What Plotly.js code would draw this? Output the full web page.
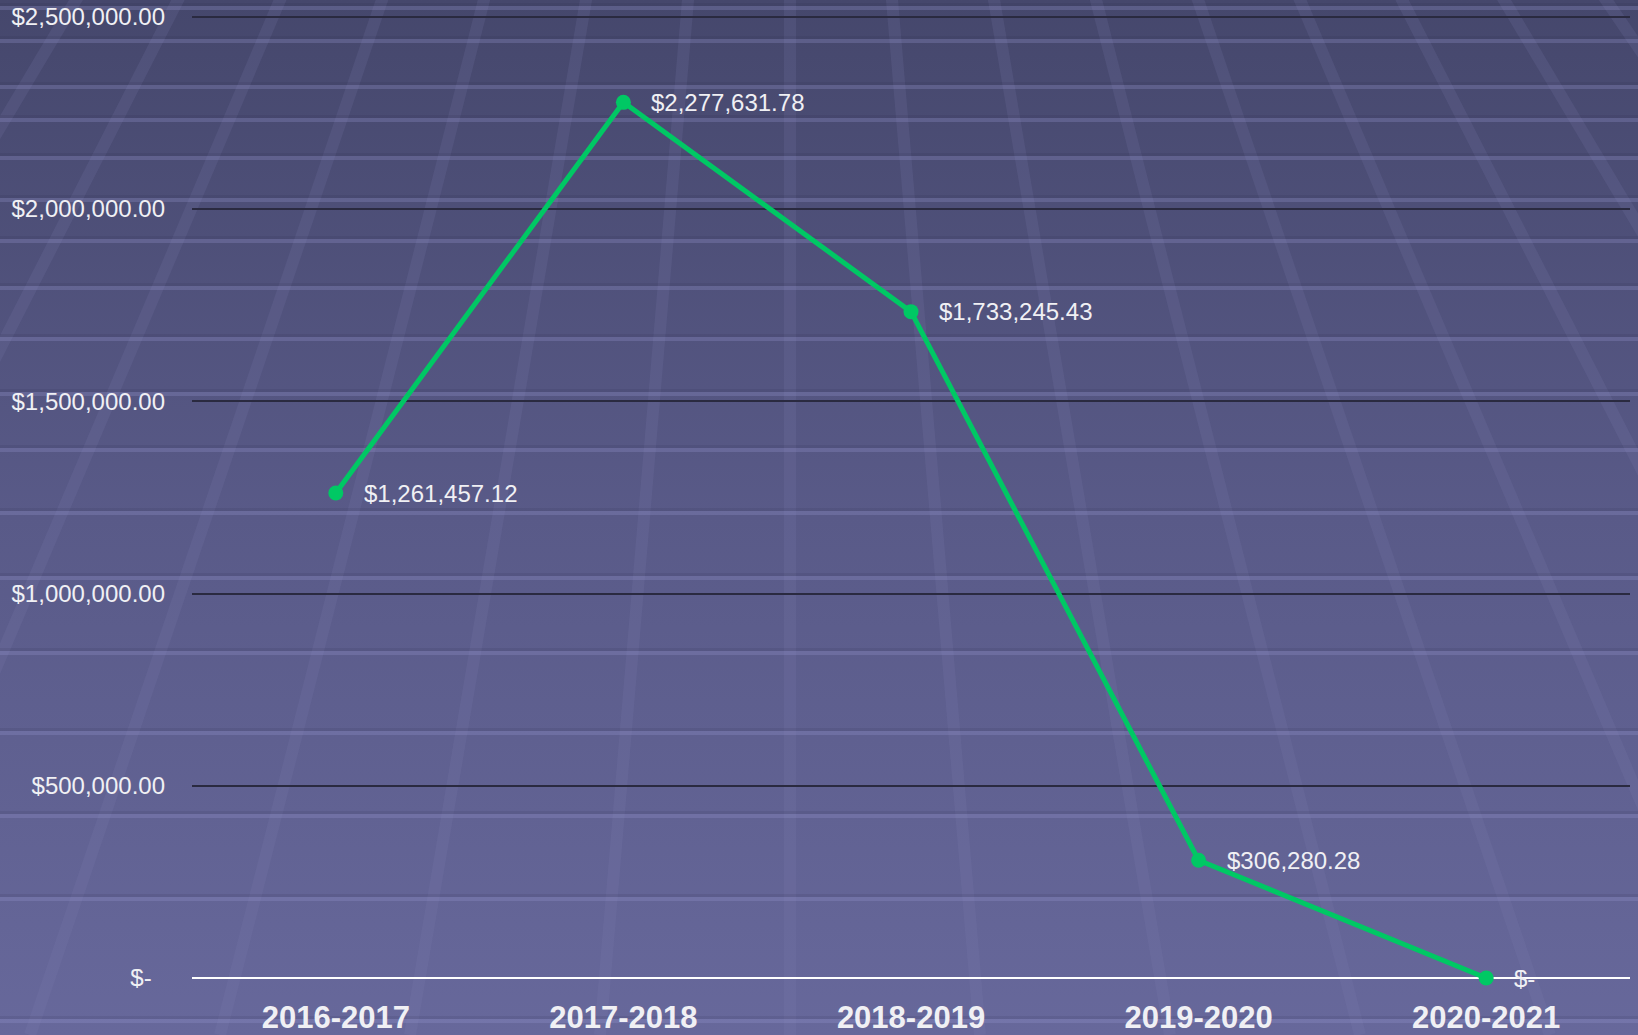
<!DOCTYPE html>
<html>
<head>
<meta charset="utf-8">
<script src="https://cdn.plot.ly/plotly-3.0.1.min.js"></script>
<style>
  html, body { margin: 0; padding: 0; width: 1638px; height: 1035px; overflow: hidden; }
  #bg { position: absolute; left: 0; top: 0; width: 1638px; height: 1035px; z-index: 0; }
  #chart { position: absolute; left: 0; top: 0; width: 1638px; height: 1035px; z-index: 1; }
</style>
</head>
<body>
<svg id="bg" xmlns="http://www.w3.org/2000/svg" width="1638" height="1035"></svg>
<div id="chart"></div>
<script>
// ---- Data ----
const categories = ["2016-2017", "2017-2018", "2018-2019", "2019-2020", "2020-2021"];
const amounts = [1261457.12, 2277631.78, 1733245.43, 306280.28, 0];
const pointLabels = ["$1,261,457.12", "$2,277,631.78", "$1,733,245.43", "$306,280.28", "$-"];
const yTickValues = [0, 500000, 1000000, 1500000, 2000000, 2500000];
const yTickLabels = ["$-\u00a0\u00a0", "$500,000.00", "$1,000,000.00", "$1,500,000.00", "$2,000,000.00", "$2,500,000.00"];

// ---- Decorative background (perspective tile texture) ----
(function () {
  const ns = "http://www.w3.org/2000/svg";
  const svg = document.getElementById("bg");
  const W = 1638, H = 1035;
  const defs = document.createElementNS(ns, "defs");
  const grad = document.createElementNS(ns, "linearGradient");
  grad.setAttribute("id", "g"); grad.setAttribute("x1", "0"); grad.setAttribute("y1", "0");
  grad.setAttribute("x2", "0"); grad.setAttribute("y2", "1");
  [["0", "#45476c"], ["0.5", "#595a88"], ["1", "#67689b"]].forEach(([o, c]) => {
    const s = document.createElementNS(ns, "stop");
    s.setAttribute("offset", o); s.setAttribute("stop-color", c); grad.appendChild(s);
  });
  defs.appendChild(grad); svg.appendChild(defs);
  const r = document.createElementNS(ns, "rect");
  r.setAttribute("width", W); r.setAttribute("height", H); r.setAttribute("fill", "url(#g)");
  svg.appendChild(r);
  // converging stripes
  const vx = 790, vy = -1200;
  for (let k = -8; k <= 8; k++) {
    const bx = vx + k * 190;
    const l = document.createElementNS(ns, "line");
    l.setAttribute("x1", vx); l.setAttribute("y1", vy);
    l.setAttribute("x2", bx); l.setAttribute("y2", H);
    l.setAttribute("stroke", "rgba(128,128,180,0.16)");
    l.setAttribute("stroke-width", "12");
    svg.appendChild(l);
  }
  // horizontal light stripes
  const ys = [7, 40, 86, 119, 157, 199, 240, 287, 338, 393, 449, 512, 577, 652, 732, 815, 898, 1020];
  ys.forEach(y => {
    const d = document.createElementNS(ns, "rect");
    d.setAttribute("x", 0); d.setAttribute("y", y - 4); d.setAttribute("width", W); d.setAttribute("height", 3);
    d.setAttribute("fill", "rgba(40,40,70,0.12)");
    svg.appendChild(d);
    const s = document.createElementNS(ns, "rect");
    s.setAttribute("x", 0); s.setAttribute("y", y - 1); s.setAttribute("width", W); s.setAttribute("height", 4);
    s.setAttribute("fill", "rgba(150,150,210,0.28)");
    svg.appendChild(s);
  });
})();

// ---- Chart ----
const trace = {
  type: "scatter",
  mode: "lines+markers",
  x: categories,
  y: amounts,
  line: { color: "#00c864", width: 5 },
  marker: { color: "#00c864", size: 15 },
  hoverinfo: "skip",
  cliponaxis: false
};

const annotations = categories.map((c, i) => ({
  x: c, y: amounts[i], xref: "x", yref: "y",
  text: pointLabels[i], showarrow: false,
  xanchor: "left", yanchor: "middle", xshift: 26, yshift: 0,
  font: { family: "Liberation Sans, Arial, sans-serif", size: 24, color: "#f0f0f4" }
}));

const layout = {
  width: 1638,
  height: 1035,
  margin: { l: 192, r: 8, t: 13, b: 57 },
  paper_bgcolor: "rgba(0,0,0,0)",
  plot_bgcolor: "rgba(0,0,0,0)",
  showlegend: false,
  font: { family: "Liberation Sans, Arial, sans-serif", color: "#f0f0f4" },
  xaxis: {
    type: "category",
    range: [-0.5, 4.5],
    showgrid: false,
    zeroline: false,
    showline: false,
    ticks: "",
    ticklabelstandoff: 18,
    tickfont: { family: "Liberation Sans, Arial, sans-serif", size: 31, color: "#f0f0f4", weight: "bold" }
  },
  yaxis: {
    range: [0, 2510000],
    tickvals: yTickValues,
    ticktext: yTickLabels,
    showgrid: true,
    gridcolor: "#2a2a40",
    gridwidth: 2,
    zeroline: true,
    zerolinecolor: "#ffffff",
    zerolinewidth: 2,
    showline: false,
    ticks: "",
    ticklabelstandoff: 26,
    tickfont: { family: "Liberation Sans, Arial, sans-serif", size: 24, color: "#f0f0f4" }
  },
  annotations: annotations
};

Plotly.newPlot("chart", [trace], layout, { displayModeBar: false, staticPlot: true });
</script>
</body>
</html>
